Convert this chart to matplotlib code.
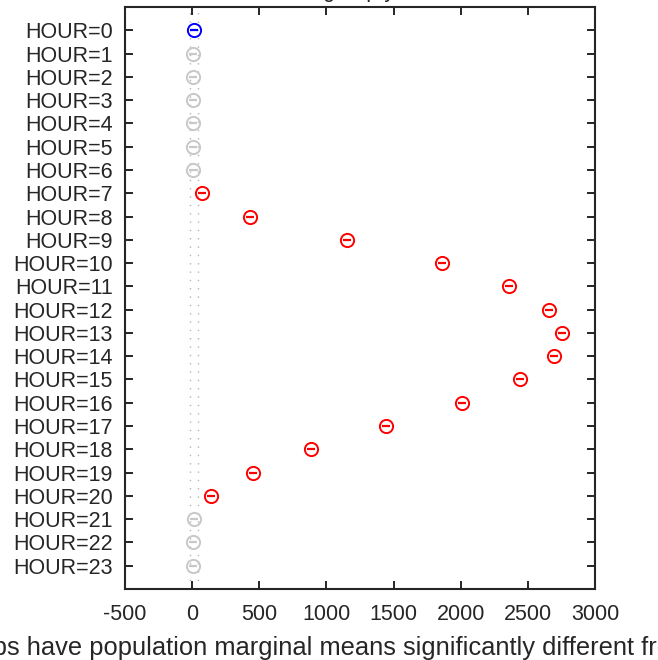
# import necessary libraries
import numpy as np
import matplotlib.pyplot as plt

plt.rcParams['font.family'] = ['Liberation Sans', 'DejaVu Sans']
plt.rcParams['axes.unicode_minus'] = False

# groups and their population marginal means
groups = ['HOUR=%d' % h for h in range(24)]
means = [14, 8, 5, 4, 4, 5, 10, 76, 429, 1152, 1861, 2363, 2656, 2756,
         2693, 2440, 2010, 1444, 884, 456, 139, 12, 5, 6]
half_width = [30] * 24
# 0 = selected group, 1 = significantly different, 2 = not different
status = [0, 2, 2, 2, 2, 2, 2, 1, 1, 1, 1, 1, 1, 1,
          1, 1, 1, 1, 1, 1, 1, 2, 2, 2]
title_text = 'Click on the group you want to test'
xlabel_text = '14 groups have population marginal means significantly different from HOUR=0'

colors = {0: 'blue', 1: 'red', 2: '#c8c8c8'}
dark = '#262626'

# set up its dimensions and resolution
fig = plt.figure(figsize=(6.58, 6.60), dpi=100)
ax = fig.add_axes([125 / 658, 1 - 589 / 660, 470 / 658, 582 / 660])

y = np.arange(len(groups))
means = np.array(means)
half_width = np.array(half_width)

# dotted lines at the interval of the selected group
sel = status.index(0)
for xv in (means[sel] - half_width[sel], means[sel] + half_width[sel]):
    ax.axvline(xv, color='#b4b4b4', linestyle=(0, (1, 5)), linewidth=1.0, zorder=1)

# circles and intervals for every group
for i in range(len(groups)):
    c = colors[status[i]]
    ax.hlines(y[i], means[i] - half_width[i], means[i] + half_width[i],
              color=c, linewidth=1.6, zorder=2)
    ax.plot(means[i], y[i], 'o', markersize=9.5, markerfacecolor='none',
            markeredgecolor=c, markeredgewidth=1.4, zorder=3)

# axes limits, ticks and labels
ax.set_xlim(-500, 3000)
ax.set_ylim(24, -1)
ax.set_xticks(range(-500, 3001, 500))
ax.set_yticks(y)
ax.set_yticklabels(groups)
ax.tick_params(direction='in', length=6, width=1.4, colors=dark,
               labelsize=15.5, top=True, right=True, pad=9)
ax.tick_params(axis='x', pad=10.5)
for s in ax.spines.values():
    s.set_linewidth(1.5)
    s.set_color(dark)
ax.set_xlabel(xlabel_text, fontsize=18.4, color=dark, labelpad=8)
ax.xaxis.label.set_x(0.489)

# the title is mostly cut off above the picture
fig.text(0.562, 1.004, title_text, ha='center', va='baseline',
         fontsize=15.5, color=dark)

plt.savefig('out.png', dpi=100)
